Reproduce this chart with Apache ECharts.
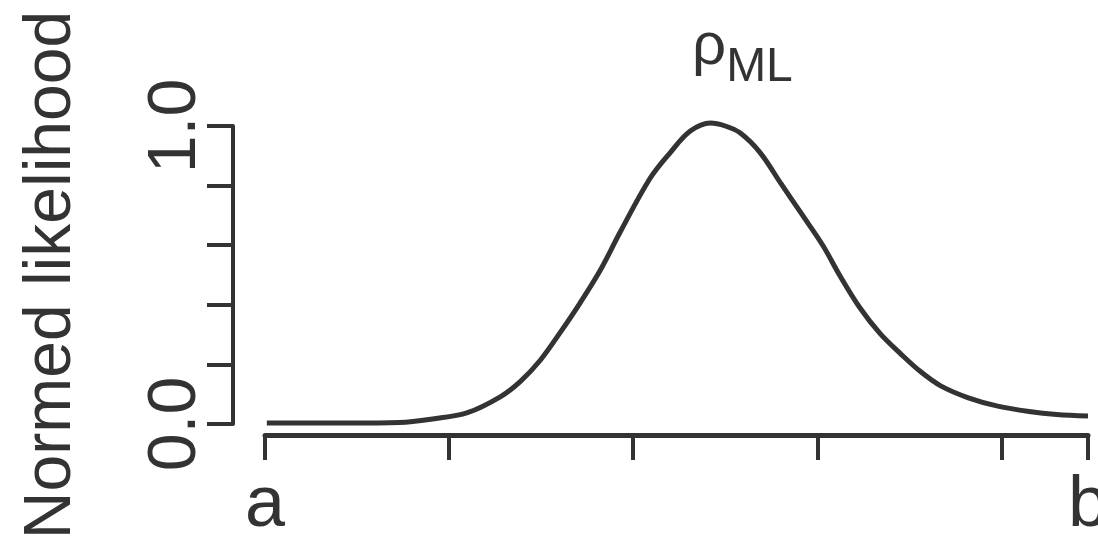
<!DOCTYPE html>
<html><head><meta charset="utf-8">
<script src="https://cdn.jsdelivr.net/npm/echarts@6/dist/echarts.min.js"></script>
<style>html,body{margin:0;padding:0;background:#fff}#c{width:1098px;height:554px}</style>
</head><body><div id="c"></div>
<script>
// x position in tick units (a = 0, b = 4.47), likelihood normed to peak 1
const xPos = [0.01, 0.46, 0.73, 0.91, 1.10, 1.28, 1.386, 1.495, 1.60, 1.71, 1.82, 1.93, 2.09, 2.20, 2.31, 2.42, 2.50, 2.58, 2.69, 2.80, 2.91, 3.03, 3.125, 3.23, 3.34, 3.45, 3.56, 3.67, 3.82, 3.98, 4.15, 4.30, 4.47];
const likelihood = [0.003, 0.003, 0.005, 0.017, 0.038, 0.092, 0.142, 0.214, 0.304, 0.405, 0.515, 0.645, 0.823, 0.910, 0.983, 1.01, 1.0, 0.977, 0.910, 0.809, 0.709, 0.599, 0.495, 0.391, 0.304, 0.237, 0.176, 0.128, 0.088, 0.060, 0.042, 0.032, 0.027];
const yTickValues = [0, 0.2, 0.4, 0.6, 0.8, 1.0];
const yTickLabels = ['0.0', '', '', '', '', '1.0'];
const xEndLabels = ['a', 'b'];
const xMax = 4.47;
const yName = 'Normed likelihood';
const peakLabel = ['ρ', 'ML'];

const FONT = 'Liberation Sans';
const INK = '#333';

function yLabel(v) {
  for (let i = 0; i < yTickValues.length; i++) {
    if (Math.abs(yTickValues[i] - v) < 1e-6) return yTickLabels[i];
  }
  return '';
}

const chart = echarts.init(document.getElementById('c'), null, {renderer: 'canvas'});
chart.setOption({
  backgroundColor: '#fff',
  animation: false,
  grid: {left: 265, right: 10, top: 126, bottom: 130, containLabel: false, outerBoundsMode: 'none'},
  xAxis: [
    {
      type: 'value', min: 0, max: xMax, interval: 1, position: 'bottom', offset: 11,
      axisLine: {show: true, onZero: false, lineStyle: {color: INK, width: 5}},
      axisTick: {show: true, length: 25, lineStyle: {color: INK, width: 4}},
      axisLabel: {show: false}, splitLine: {show: false}
    },
    {
      type: 'value', min: 0, max: xMax, interval: xMax, position: 'bottom', offset: 11,
      axisLine: {show: false, onZero: false}, axisTick: {show: false}, splitLine: {show: false},
      axisLabel: {
        show: true, margin: 35, fontSize: 72, color: INK, fontFamily: FONT,
        showMinLabel: true, showMaxLabel: true, hideOverlap: false,
        formatter: v => (v < 1 ? xEndLabels[0] : xEndLabels[1])
      }
    }
  ],
  yAxis: {
    type: 'value', min: 0, max: 1, interval: 0.2, offset: 32,
    axisLine: {show: true, onZero: false, lineStyle: {color: INK, width: 4}},
    axisTick: {show: true, length: 26, lineStyle: {color: INK, width: 4}},
    axisLabel: {show: true, rotate: 90, margin: 23, fontSize: 68, color: INK, fontFamily: FONT, formatter: yLabel},
    splitLine: {show: false},
    name: yName, nameLocation: 'middle', nameRotate: 90, nameGap: 148,
    nameTextStyle: {fontSize: 66, color: INK, fontFamily: FONT}
  },
  graphic: [{
    type: 'text', x: 692, y: 2,
    style: {
      text: '{r|' + peakLabel[0] + '}{s|' + peakLabel[1] + '}',
      fill: INK, fontFamily: FONT, align: 'left', verticalAlign: 'top',
      rich: {
        r: {fontSize: 60, lineHeight: 90, fontFamily: FONT, fill: INK, verticalAlign: 'middle'},
        s: {fontSize: 48, lineHeight: 30, fontFamily: FONT, fill: INK, verticalAlign: 'bottom'}
      }
    }
  }],
  series: [{
    type: 'line', xAxisIndex: 0, yAxisIndex: 0,
    data: xPos.map((x, i) => [x, likelihood[i]]),
    showSymbol: false, smooth: 0.35, clip: false,
    lineStyle: {color: INK, width: 5}
  }]
});
</script></body></html>
